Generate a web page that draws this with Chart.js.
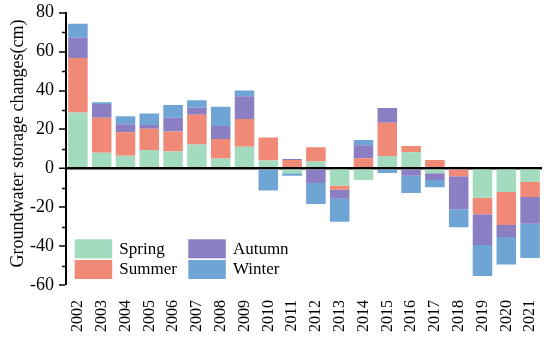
<!DOCTYPE html>
<html>
<head>
<meta charset="utf-8">
<script src="https://cdn.jsdelivr.net/npm/chart.js@4"></script>
<style>
html,body{margin:0;padding:0;background:#fff;}
canvas{display:block;}
</style>
</head>
<body>
<canvas id="c" width="550" height="341"></canvas>
<script>
const years = ['2002','2003','2004','2005','2006','2007','2008','2009','2010','2011','2012','2013','2014','2015','2016','2017','2018','2019','2020','2021'];
const spring = [28.7, 8.0, 6.5, 9.4, 8.6, 12.2, 5.1, 11.1, 4.0, -2.6, 3.5, -8.9, -6.0, 6.3, 8.3, -2.5, 0.8, -15.2, -12.2, -7.0];
const summer = [28.0, 18.0, 12.0, 10.9, 10.3, 15.3, 10.0, 14.3, 11.8, 4.3, 7.3, -2.1, 5.2, 17.1, 3.2, 4.3, -4.1, -8.4, -16.9, -7.7];
const autumn = [10.4, 7.0, 4.2, 1.9, 7.1, 3.6, 6.7, 11.7, 0, 0.5, -7.5, -4.6, 6.7, 7.6, -3.8, -3.5, -17.0, -15.8, -6.2, -13.8];
const winter = [7.2, 1.0, 4.1, 6.0, 6.5, 3.9, 9.8, 2.9, -11.4, -1.2, -10.9, -11.9, 2.7, -2.4, -8.9, -3.8, -9.2, -16.0, -14.2, -17.6];
const seriesNames = ['Spring','Summer','Autumn','Winter'];
const seriesColors = ['#a3dbbf','#f08976','#8b7ec3','#6fa5d5'];
const yTitle = 'Groundwater storage changes(cm)';
const FONT = "'Liberation Serif', 'Times New Roman', serif";

const minorTicks = {
  id: 'minorTicks',
  afterDraw(chart) {
    const y = chart.scales.y, ctx = chart.ctx;
    const x0 = chart.chartArea.left;
    ctx.save();
    ctx.strokeStyle = '#000';
    ctx.lineWidth = 1.5;
    for (let v = -50; v <= 70; v += 20) {
      const py = Math.round(y.getPixelForValue(v)) + 0.5;
      ctx.beginPath();
      ctx.moveTo(x0 - 4, py);
      ctx.lineTo(x0, py);
      ctx.stroke();
    }
    ctx.restore();
  }
};

const yTitlePlugin = {
  id: 'yTitlePlugin',
  afterDraw(chart) {
    const ctx = chart.ctx;
    ctx.save();
    ctx.translate(18, 143.5);
    ctx.rotate(-Math.PI / 2);
    ctx.font = '18px ' + FONT;
    ctx.fillStyle = '#000';
    ctx.textAlign = 'center';
    ctx.textBaseline = 'middle';
    ctx.fillText(yTitle, 0, 0);
    ctx.restore();
  }
};

const legendPlugin = {
  id: 'insideLegend',
  afterDraw(chart) {
    const ctx = chart.ctx;
    const colX = [74.7, 188.3];
    const rowY = [239.3, 260];
    ctx.save();
    ctx.font = '17px ' + FONT;
    ctx.textBaseline = 'middle';
    ctx.textAlign = 'left';
    chart.data.datasets.forEach((ds, i) => {
      const bx = colX[Math.floor(i / 2)], by = rowY[i % 2];
      ctx.fillStyle = ds.backgroundColor;
      ctx.fillRect(bx, by, 37.5, 19);
      ctx.fillStyle = '#000';
      ctx.fillText(ds.label, bx + 44.6, by + 10);
    });
    ctx.restore();
  }
};

new Chart(document.getElementById('c'), {
  type: 'bar',
  data: {
    labels: years,
    datasets: [spring, summer, autumn, winter].map((d, i) => ({
      label: seriesNames[i],
      data: d,
      backgroundColor: seriesColors[i],
      borderWidth: 0,
      categoryPercentage: 1.0,
      barPercentage: 0.82
    }))
  },
  options: {
    responsive: false,
    animation: false,
    devicePixelRatio: 1,
    layout: { padding: { left: 0, right: 8, top: 12.7, bottom: 0 } },
    plugins: { legend: { display: false }, tooltip: { enabled: false } },
    scales: {
      x: {
        stacked: true,
        grid: { display: false, drawTicks: false },
        border: { display: false },
        ticks: {
          minRotation: 90, maxRotation: 90, padding: 15,
          color: '#000', font: { family: FONT, size: 16 }
        },
        afterFit(s) { s.height = 56; s.paddingLeft = 0; s.paddingRight = 0; }
      },
      y: {
        stacked: true,
        min: -60, max: 80,
        ticks: { stepSize: 20, padding: 5, color: '#000', font: { family: FONT, size: 18 } },
        grid: {
          drawOnChartArea: true,
          color: c => (c.tick && c.tick.value === 0) ? '#000' : 'rgba(0,0,0,0)',
          lineWidth: c => (c.tick && c.tick.value === 0) ? 2.5 : 0,
          tickColor: '#000',
          tickWidth: 1.5,
          tickLength: 7
        },
        border: { display: true, color: '#000', width: 2 },
        afterFit(s) { s.width = 66; s.paddingTop = 0; s.paddingBottom = 0; }
      }
    }
  },
  plugins: [minorTicks, yTitlePlugin, legendPlugin]
});
</script>
</body>
</html>
